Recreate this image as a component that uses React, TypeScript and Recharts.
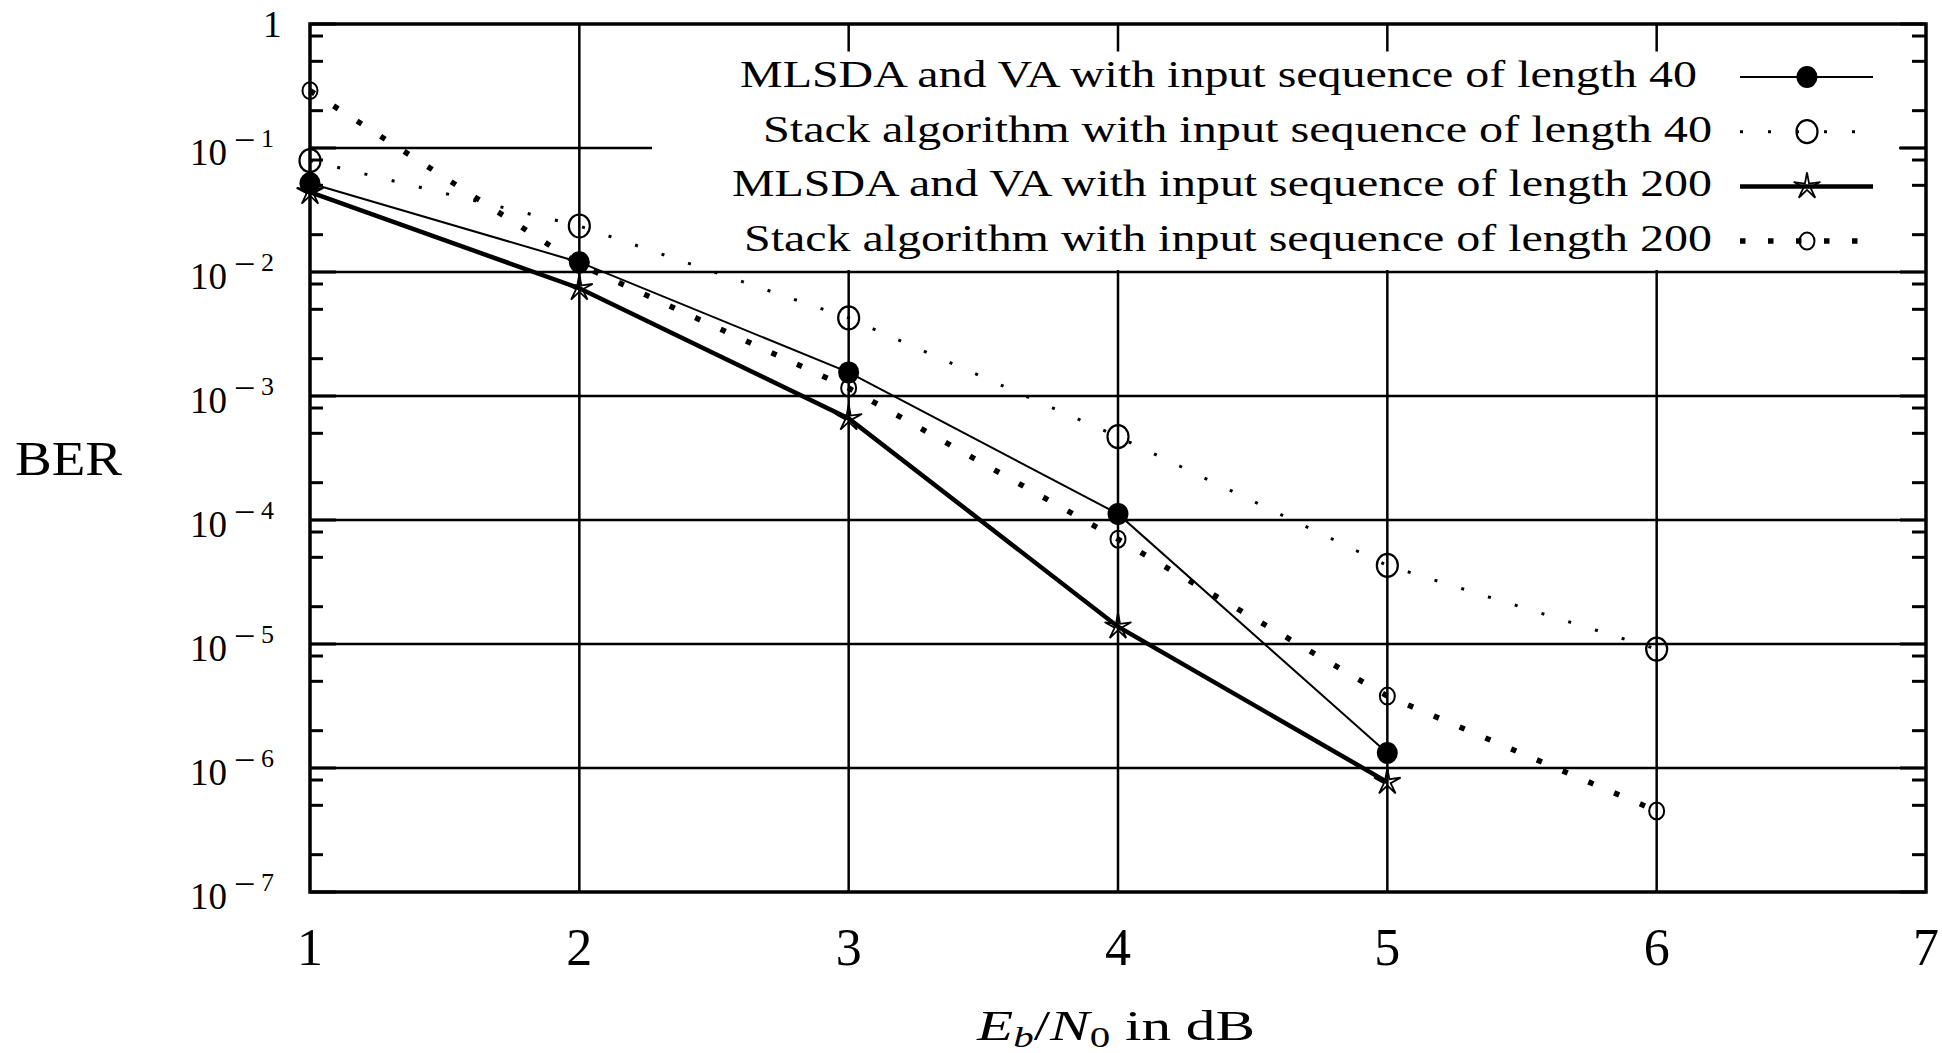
import React from "react";
import { CartesianGrid, Label, Legend, Line, LineChart, ReferenceArea, XAxis, YAxis } from "recharts";

// Eb/N0 in dB
const EB_N0 = [1, 2, 3, 4, 5, 6];

// BER (log scale)
const MLSDA_40 = [0.052, 0.012, 0.00155, 0.000112, 0.00000132, null];
const STACK_40 = [0.079, 0.0235, 0.00426, 0.00047, 0.000043, 0.0000091];
const MLSDA_200 = [0.044, 0.0074, 0.00066, 0.0000138, 0.00000077, null];
const STACK_200 = [0.29, 0.0115, 0.00116, 0.00007, 0.0000038, 0.00000045];

const X_TICKS = [1, 2, 3, 4, 5, 6, 7];
const Y_DECADES = [1, 1e-1, 1e-2, 1e-3, 1e-4, 1e-5, 1e-6, 1e-7];
const MINOR_STEPS = [2, 5, 8];

const LEGEND_NAMES = [
  "MLSDA and VA with input sequence of length 40",
  "Stack algorithm with input sequence of length 40",
  "MLSDA and VA with input sequence of length 200",
  "Stack algorithm with input sequence of length 200",
];

const data = EB_N0.map((x, i) => ({
  x,
  m40: MLSDA_40[i],
  s40: STACK_40[i],
  m200: MLSDA_200[i],
  s200: STACK_200[i],
}));

const yTicks = [...Y_DECADES, ...Y_DECADES.slice(1).flatMap(d => MINOR_STEPS.map(m => m * d))];

const isDecade = (v: number) => Math.abs(Math.log10(v) - Math.round(Math.log10(v))) < 1e-6;

// markers
const FilledDot = ({ cx, cy }: any) => <ellipse cx={cx} cy={cy} rx={10.5} ry={11} fill="#000" />;
const BigRing = ({ cx, cy }: any) => (
  <ellipse cx={cx} cy={cy} rx={10.5} ry={11.5} fill="none" stroke="#000" strokeWidth={2.2} />
);
const SmallRing = ({ cx, cy }: any) => (
  <ellipse cx={cx} cy={cy} rx={7.5} ry={8.5} fill="none" stroke="#000" strokeWidth={2} />
);
const Star = ({ cx, cy }: any) => {
  const pts: string[] = [];
  for (let k = 0; k < 10; k++) {
    const r = k % 2 === 0 ? 14 : 3.5;
    const a = -Math.PI / 2 + (k * Math.PI) / 5;
    pts.push(`${cx + r * Math.cos(a)},${cy + r * Math.sin(a)}`);
  }
  return <polygon points={pts.join(" ")} fill="#fff" fillOpacity={0} stroke="#000" strokeWidth={1.8} />;
};

const SERIES = [
  { key: "m40", width: 2, dash: undefined, Marker: FilledDot },
  { key: "s40", width: 3, dash: "3 25", Marker: BigRing },
  { key: "m200", width: 4.5, dash: undefined, Marker: Star },
  { key: "s200", width: 5.5, dash: "5.5 22.5", Marker: SmallRing },
];

const dotRenderer = (Marker: any) => (p: any) => {
  if (p.value == null || p.cy == null) return <g key={`e-${p.index}`} />;
  return <Marker key={`d-${p.index}`} cx={p.cx} cy={p.cy} />;
};

const LeftTick = ({ x, y, payload }: any) => {
  const v = payload.value;
  const e = Math.round(Math.log10(v));
  const major = isDecade(v);
  return (
    <g>
      <line x1={x} x2={x + (major ? 26 : 13)} y1={y} y2={y} stroke="#000" strokeWidth={3} />
      {major && e === 0 && (
        <text x={x - 47} y={y + 13} fontSize={37}>
          1
        </text>
      )}
      {major && e !== 0 && (
        <text x={x - 120} y={y + 17} fontSize={37}>
          10
          <tspan x={x - 76} y={y + 5} fontSize={38}>
            −
          </tspan>
          <tspan x={x - 49} y={y - 1} fontSize={26}>
            {-e}
          </tspan>
        </text>
      )}
    </g>
  );
};

const RightTick = ({ x, y, payload }: any) => (
  <line x1={x} x2={x - (isDecade(payload.value) ? 26 : 14)} y1={y} y2={y} stroke="#000" strokeWidth={3} />
);

const BottomTick = ({ x, y, payload }: any) => (
  <text x={x} y={y + 73} textAnchor="middle" fontSize={52}>
    {payload.value}
  </text>
);

const KEY_TEXT_END = [1045, 1060, 1060, 1060];
const KEY_TEXT_WIDTH = [957, 949, 980, 968];

const KeyBox = () => (
  <svg width={1250} height={222} style={{ display: "block", fontFamily: "'Liberation Serif', serif" }}>
    {SERIES.map((s, i) => {
      const ly = 25 + i * 54.7;
      const { Marker } = s;
      return (
        <g key={s.key}>
          <text
            x={KEY_TEXT_END[i] - KEY_TEXT_WIDTH[i]}
            y={ly + 10}
            fontSize={38}
            textLength={KEY_TEXT_WIDTH[i]}
            lengthAdjust="spacingAndGlyphs"
          >
            {LEGEND_NAMES[i]}
          </text>
          <line x1={1088} x2={1221} y1={ly} y2={ly} stroke="#000" strokeWidth={s.width} strokeDasharray={s.dash} />
          <Marker cx={1155} cy={ly} />
        </g>
      );
    })}
  </svg>
);

export default function App() {
  return (
    <div style={{ width: 1942, height: 1053, background: "#fff", fontFamily: "'Liberation Serif', serif" }}>
      <style>{"body{margin:0}"}</style>
      <LineChart width={1942} height={1053} data={data} margin={{ top: 24, right: 0, bottom: 61, left: 10 }}>
        <CartesianGrid
          yAxisId="l"
          stroke="#000"
          strokeWidth={2.5}
          horizontalValues={[1e-1, 1e-2, 1e-3, 1e-4, 1e-5, 1e-6]}
          verticalValues={[2, 3, 4, 5, 6]}
        />
        <ReferenceArea
          yAxisId="l"
          x1={2.27}
          x2={6.9}
          y1={0.0104}
          y2={0.6}
          fill="#fff"
          fillOpacity={1}
          stroke="none"
          zIndex={-50}
        />
        <XAxis
          dataKey="x"
          type="number"
          domain={[1, 7]}
          ticks={X_TICKS}
          interval={0}
          height={100}
          tickSize={0}
          tickMargin={0}
          axisLine={false}
          tickLine={false}
          tick={<BottomTick />}
        >
          <Label
            content={() => (
              <text x={977} y={1040} fontSize={42} textLength={278} lengthAdjust="spacingAndGlyphs">
                <tspan fontStyle="italic">E</tspan>
                <tspan fontStyle="italic" fontSize={29} dy={7}>
                  b
                </tspan>
                <tspan dy={-7}>/</tspan>
                <tspan fontStyle="italic">N</tspan>
                <tspan fontSize={29} dy={7}>
                  0
                </tspan>
                <tspan dy={-7}>{"\u00a0in dB"}</tspan>
              </text>
            )}
          />
        </XAxis>
        <YAxis
          yAxisId="l"
          scale="log"
          domain={[1e-7, 1]}
          allowDataOverflow
          ticks={yTicks}
          interval={0}
          width={300}
          tickSize={0}
          tickMargin={0}
          axisLine={false}
          tickLine={false}
          tick={<LeftTick />}
        >
          <Label
            content={() => (
              <text x={15} y={475} fontSize={48} textLength={107} lengthAdjust="spacingAndGlyphs">
                BER
              </text>
            )}
          />
        </YAxis>
        <YAxis
          yAxisId="r"
          orientation="right"
          scale="log"
          domain={[1e-7, 1]}
          allowDataOverflow
          ticks={yTicks}
          interval={0}
          width={16}
          tickSize={0}
          tickMargin={0}
          axisLine={false}
          tickLine={false}
          tick={<RightTick />}
        />
        {SERIES.map(s => (
          <Line
            key={s.key}
            yAxisId="l"
            type="linear"
            dataKey={s.key}
            stroke="#000"
            strokeWidth={s.width}
            strokeDasharray={s.dash}
            dot={dotRenderer(s.Marker)}
            activeDot={false}
            isAnimationActive={false}
          />
        ))}
        <ReferenceArea
          yAxisId="l"
          x1={1}
          x2={7}
          y1={1e-7}
          y2={1}
          fill="none"
          stroke="#000"
          strokeWidth={3.5}
          ifOverflow="visible"
          zIndex={450}
        />
        <Legend
          layout="horizontal"
          verticalAlign="middle"
          align="center"
          content={<KeyBox />}
          wrapperStyle={{ left: 652, top: 52, width: 1250, height: 222, lineHeight: 0 }}
        />
      </LineChart>
    </div>
  );
}
